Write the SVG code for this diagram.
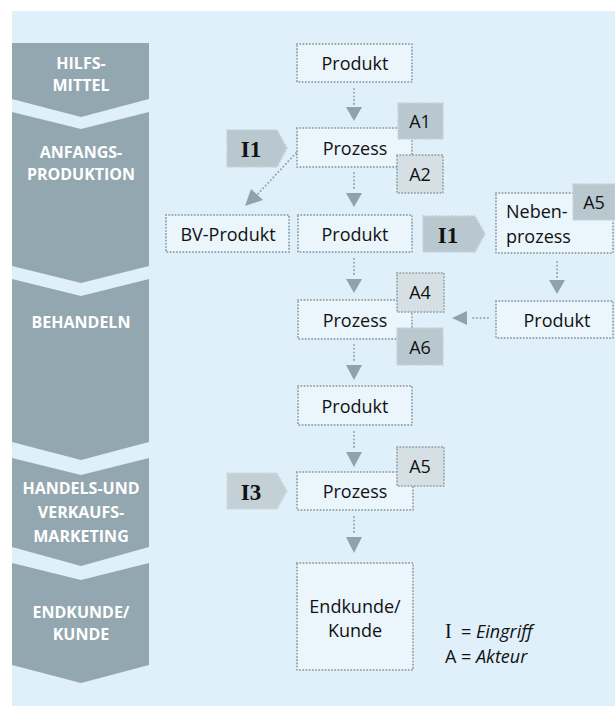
<svg xmlns="http://www.w3.org/2000/svg" width="615" height="706" viewBox="0 0 615 706">
<defs>
<style>
.chev{fill:#93a7b0}
.ct{font-family:"Open Sans","Noto Sans",sans-serif;font-weight:bold;font-size:16px;fill:#ffffff;text-anchor:middle}
.box{fill:#eaf5fc;stroke:#97a6ad;stroke-width:2;stroke-dasharray:0.1 3.1;stroke-linecap:round}
.t{font-family:"Open Sans","Noto Sans",sans-serif;font-size:18px;fill:#111111;text-anchor:middle}
.tl{font-family:"Open Sans","Noto Sans",sans-serif;font-size:18px;fill:#111111}
.ad{fill:#b9c8cf;stroke:#c6d3d9;stroke-width:2;stroke-dasharray:0.1 3.1;stroke-linecap:round}
.al{fill:#d6dfe3;stroke:#9aa9b0;stroke-width:2;stroke-dasharray:0.1 3.1;stroke-linecap:round}
.it{font-family:"Liberation Serif","DejaVu Serif",serif;font-weight:bold;font-size:23px;fill:#111111;text-anchor:middle}
.ln{fill:none;stroke:#97a6ad;stroke-width:2;stroke-dasharray:0.1 3.6;stroke-linecap:round}
.ah{fill:#8fa3ac}
</style>
</defs>
<rect x="0" y="0" width="615" height="706" fill="#ffffff"/>
<rect x="12" y="11" width="603" height="695" fill="#dff0fa"/>

<g id="lanes">
<g id="lane-hilfsmittel">
<polygon class="chev" points="12,43 149,43 149,99 81,117 12,99"/>
<text class="ct" x="81" y="69">HILFS-</text>
<text class="ct" x="81" y="91">MITTEL</text>
</g>
<g id="lane-anfangsproduktion">
<polygon class="chev" points="12,112 81,129 149,112 149,266 81,283 12,266"/>
<text class="ct" x="81" y="158">ANFANGS-</text>
<text class="ct" x="81" y="180">PRODUKTION</text>
</g>
<g id="lane-behandeln">
<polygon class="chev" points="12,279 81,296 149,279 149,442 81,460 12,442"/>
<text class="ct" x="81" y="328">BEHANDELN</text>
</g>
<g id="lane-handel">
<polygon class="chev" points="12,458 81,475 149,458 149,547 81,566 12,547"/>
<text class="ct" x="81" y="494">HANDELS-UND</text>
<text class="ct" x="81" y="518">VERKAUFS-</text>
<text class="ct" x="81" y="542">MARKETING</text>
</g>
<g id="lane-endkunde">
<polygon class="chev" points="12,563 81,580 149,563 149,665 81,683 12,665"/>
<text class="ct" x="81" y="618">ENDKUNDE/</text>
<text class="ct" x="81" y="640">KUNDE</text>
</g>
</g>

<g id="connectors">
<line class="ln" x1="354" y1="89" x2="354" y2="105"/>
<polygon class="ah" points="346,107 362,107 354,121"/>
<line class="ln" x1="354" y1="173" x2="354" y2="191"/>
<polygon class="ah" points="346,193 362,193 354,207"/>
<line class="ln" x1="296" y1="153" x2="256" y2="196"/>
<polygon class="ah" points="245,206 251,189 263,200"/>
<line class="ln" x1="354" y1="259" x2="354" y2="277"/>
<polygon class="ah" points="346,279 362,279 354,293"/>
<line class="ln" x1="354" y1="345" x2="354" y2="363"/>
<polygon class="ah" points="346,365 362,365 354,380"/>
<line class="ln" x1="354" y1="432" x2="354" y2="450"/>
<polygon class="ah" points="346,452 362,452 354,467"/>
<line class="ln" x1="354" y1="517" x2="354" y2="535"/>
<polygon class="ah" points="346,537 362,537 354,553"/>
<line class="ln" x1="557" y1="262" x2="557" y2="278"/>
<polygon class="ah" points="549,280 565,280 557,294"/>
<line class="ln" x1="488" y1="318" x2="470" y2="318"/>
<polygon class="ah" points="467,311 467,325 452,318"/>
</g>

<g id="produkt1">
<rect class="box" x="297" y="44" width="115" height="38"/>
<text class="t" x="355" y="70">Produkt</text>
</g>
<g id="prozess1">
<rect class="box" x="297" y="128" width="115" height="39"/>
<text class="t" x="355" y="155">Prozess</text>
</g>
<g id="a1">
<rect class="ad" x="398" y="103" width="45" height="36"/>
<text class="t" x="420" y="128">A1</text>
</g>
<g id="a2">
<rect class="al" x="397" y="155" width="46" height="38"/>
<text class="t" x="420" y="181">A2</text>
</g>
<g id="i1a">
<polygon class="ad" points="227,130 277,130 287,148 277,167 227,167"/>
<text class="it" x="251" y="157">I1</text>
</g>
<g id="bv-produkt">
<rect class="box" x="166" y="215" width="123" height="37"/>
<text class="t" x="228" y="241">BV-Produkt</text>
</g>
<g id="produkt2">
<rect class="box" x="298" y="215" width="114" height="37"/>
<text class="t" x="355" y="241">Produkt</text>
</g>
<g id="i1b">
<polygon class="ad" points="423,216 475,216 485,234 475,252 423,252"/>
<text class="it" x="448" y="243">I1</text>
</g>
<g id="nebenprozess">
<rect class="box" x="496" y="193" width="117" height="60"/>
<text class="tl" x="506" y="218">Neben-</text>
<text class="tl" x="506" y="243">prozess</text>
</g>
<g id="a5a">
<rect class="ad" x="573" y="184" width="42" height="36"/>
<text class="t" x="594" y="209">A5</text>
</g>
<g id="produkt3">
<rect class="box" x="496" y="301" width="117" height="37"/>
<text class="t" x="557" y="327">Produkt</text>
</g>
<g id="prozess2">
<rect class="box" x="298" y="300" width="114" height="39"/>
<text class="t" x="355" y="327">Prozess</text>
</g>
<g id="a4">
<rect class="al" x="397" y="273" width="47" height="39"/>
<text class="t" x="420" y="299">A4</text>
</g>
<g id="a6">
<rect class="ad" x="397" y="328" width="46" height="37"/>
<text class="t" x="420" y="354">A6</text>
</g>
<g id="produkt4">
<rect class="box" x="298" y="386" width="114" height="39"/>
<text class="t" x="355" y="413">Produkt</text>
</g>
<g id="prozess3">
<rect class="box" x="297" y="472" width="116" height="38"/>
<text class="t" x="355" y="498">Prozess</text>
</g>
<g id="a5b">
<rect class="al" x="397" y="447" width="47" height="39"/>
<text class="t" x="420" y="473">A5</text>
</g>
<g id="i3">
<polygon class="ad" style="fill:#c3d0d6;stroke:#cfdadf" points="227,473 277,473 287,491 277,509 227,509"/>
<text class="it" x="251" y="500">I3</text>
</g>
<g id="endkunde">
<rect class="box" x="297" y="563" width="116" height="107"/>
<text class="t" x="355" y="613">Endkunde/</text>
<text class="t" x="355" y="637">Kunde</text>
</g>
<g id="legend">
<text x="445" y="638" font-family="Liberation Serif,DejaVu Serif,serif" font-size="20" fill="#111111">I</text>
<text x="461" y="638" font-family="Open Sans,Noto Sans,sans-serif" font-size="18" fill="#111111">= <tspan font-style="italic">Eingriff</tspan></text>
<text x="445" y="663" font-family="Open Sans,Noto Sans,sans-serif" font-size="18" fill="#111111">A = <tspan font-style="italic">Akteur</tspan></text>
</g>
</svg>
